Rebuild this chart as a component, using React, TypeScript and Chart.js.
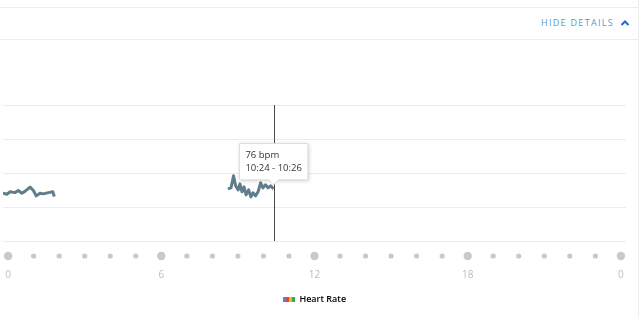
import React, { useEffect, useRef } from "react";
import { Chart, registerables } from "chart.js";
Chart.register(...registerables);

// ---- data ----
const seriesLabel = "Heart Rate";
const segment1Hours = [-0.2, -0.05, 0.08, 0.27, 0.4, 0.54, 0.67, 0.86, 0.99, 1.1, 1.25, 1.38, 1.58, 1.75, 1.81];
const segment1Bpm = [72.2, 71.3, 73.4, 72.7, 74.5, 72.2, 74.0, 77.5, 74.5, 69.8, 72.2, 71.6, 72.7, 73.4, 69.2];
const segment2Hours = [8.61, 8.73, 8.83, 8.91, 9.01, 9.08, 9.16, 9.24, 9.32, 9.42, 9.51, 9.59, 9.69, 9.79, 9.89, 9.98, 10.08, 10.18, 10.28, 10.4];
const segment2Bpm = [76.0, 76.9, 87.5, 78.7, 75.1, 80.4, 73.4, 77.8, 70.7, 75.1, 68.9, 72.5, 69.8, 73.4, 81.3, 76.9, 79.6, 76.9, 78.7, 76];
const gapHour = 5;
const hourTicks = [0, 1, 2, 3, 4, 5, 6, 7, 8, 9, 10, 11, 12, 13, 14, 15, 16, 17, 18, 19, 20, 21, 22, 23, 24];
const majorHours = [0, 6, 12, 18, 24];
const majorLabels = ["0", "6", "12", "18", "0"];
const bpmGrid = [30, 60, 90, 120, 150];
const tooltipHour = 10.4;
const bucketMinutes = 2;
const legendColors = ["#4285f4", "#ea4335", "#fbbc05", "#34a853"];

const fmtTime = (h: number) => {
  const total = Math.round(h * 60);
  const hh = Math.floor(total / 60);
  const mm = total % 60;
  return `${hh}:${mm < 10 ? "0" + mm : mm}`;
};

export default function App() {
  const ref = useRef<HTMLCanvasElement | null>(null);

  useEffect(() => {
    if (!ref.current) return;
    const pts: { x: number; y: number | null }[] = [];
    segment1Hours.forEach((h, i) => pts.push({ x: h, y: segment1Bpm[i] }));
    pts.push({ x: gapHour, y: null });
    segment2Hours.forEach((h, i) => pts.push({ x: h, y: segment2Bpm[i] }));
    const activeIndex = pts.findIndex((p) => p.x === tooltipHour);

    // legend swatch
    const sw = document.createElement("canvas");
    sw.width = 12;
    sw.height = 5;
    const sctx = sw.getContext("2d")!;
    legendColors.forEach((c, i) => {
      sctx.fillStyle = c;
      sctx.fillRect(i * 3, 0, 3, 5);
    });

    const dotsPlugin = {
      id: "hourDots",
      afterDraw(chart: any) {
        const xs = chart.scales.x;
        const ctx = chart.ctx;
        const y = chart.chartArea.bottom + 15;
        ctx.save();
        ctx.fillStyle = "#c9c9c9";
        hourTicks.forEach((h) => {
          const x = xs.getPixelForValue(h);
          ctx.beginPath();
          ctx.arc(x, y, majorHours.includes(h) ? 4.2 : 2.6, 0, Math.PI * 2);
          ctx.fill();
        });
        ctx.restore();
      },
    };

    const crossPlugin = {
      id: "crossLine",
      afterDatasetsDraw(chart: any) {
        const act = chart.tooltip?.getActiveElements?.() || [];
        if (!act.length) return;
        const x = Math.round(act[0].element.x) + 0.5;
        const ctx = chart.ctx;
        ctx.save();
        ctx.strokeStyle = "#4a4a4a";
        ctx.lineWidth = 1;
        ctx.beginPath();
        ctx.moveTo(x, chart.chartArea.top);
        ctx.lineTo(x, chart.chartArea.bottom);
        ctx.stroke();
        ctx.restore();
      },
      beforeTooltipDraw(chart: any) {
        const t = chart.tooltip;
        if (!t || !t.opacity) return;
        const ctx = chart.ctx;
        ctx.save();
        ctx.shadowColor = "rgba(0,0,0,0.18)";
        ctx.shadowBlur = 4;
        ctx.shadowOffsetX = 1;
        ctx.shadowOffsetY = 1;
        ctx.fillStyle = "#fff";
        ctx.fillRect(t.x, t.y, t.width, t.height);
        ctx.restore();
      },
    };

    const chart = new Chart(ref.current, {
      type: "line",
      data: {
        datasets: [
          {
            label: seriesLabel,
            data: pts as any,
            borderColor: "#607d8b",
            backgroundColor: "#607d8b",
            borderWidth: 3,
            pointRadius: 0,
            pointHoverRadius: 0,
            tension: 0,
            spanGaps: false,
            borderJoinStyle: "round",
          },
        ],
      },
      options: {
        animation: false,
        responsive: true,
        maintainAspectRatio: false,
        events: [],
        parsing: false as any,
        layout: { padding: { left: 3, right: 12, top: 65, bottom: 3 } },
        scales: {
          x: {
            type: "linear",
            min: -0.2,
            max: 24.2,
            grid: { display: false, drawTicks: false },
            border: { display: false },
            afterBuildTicks: (s: any) => {
              s.ticks = majorHours.map((v) => ({ value: v }));
            },
            afterFit: (s: any) => {
              s.height = 38;
              s.paddingLeft = 0;
              s.paddingRight = 0;
            },
            ticks: {
              autoSkip: false,
              maxRotation: 0,
              padding: 28,
              color: "#bdbdbd",
              font: { family: "'Open Sans'", size: 10 },
              callback: (v: any) => majorLabels[majorHours.indexOf(Number(v))] ?? "",
            },
          },
          y: {
            type: "linear",
            min: bpmGrid[0],
            max: bpmGrid[bpmGrid.length - 1],
            afterBuildTicks: (s: any) => {
              s.ticks = bpmGrid.map((v) => ({ value: v }));
            },
            afterFit: (s: any) => {
              s.width = 0;
            },
            grid: { color: "#ececec", lineWidth: 1, drawTicks: false },
            border: { display: false },
            ticks: { display: false },
          },
        },
        plugins: {
          legend: {
            position: "bottom",
            labels: {
              usePointStyle: true,
              pointStyleWidth: 12,
              padding: 16,
              color: "#333",
              font: { family: "'Open Sans'", size: 9, weight: "600" as any },
              generateLabels: () => [
                {
                  text: seriesLabel,
                  pointStyle: sw as any,
                  fillStyle: "#607d8b",
                  strokeStyle: "transparent",
                  lineWidth: 0,
                  hidden: false,
                  datasetIndex: 0,
                } as any,
              ],
            },
          },
          tooltip: {
            enabled: true,
            backgroundColor: "#ffffff",
            borderColor: "#dcdcdc",
            borderWidth: 1,
            cornerRadius: 0,
            caretSize: 5,
            caretPadding: 4,
            displayColors: false,
            xAlign: "center",
            yAlign: "bottom",
            padding: { left: 6, right: 6, top: 6, bottom: 6 },
            titleColor: "#333",
            bodyColor: "#333",
            titleFont: { family: "'Open Sans'", size: 9.5, weight: "normal" as any },
            bodyFont: { family: "'Open Sans'", size: 9.5 },
            titleMarginBottom: 1.6,
            callbacks: {
              title: (items: any[]) => `${Math.round(items[0].parsed.y)} bpm`,
              label: (item: any) => `${fmtTime(item.parsed.x)} - ${fmtTime(item.parsed.x + bucketMinutes / 60)}`,
            },
          },
        },
      },
      plugins: [dotsPlugin, crossPlugin],
    } as any);

    const el = chart.getDatasetMeta(0).data[activeIndex] as any;
    chart.tooltip!.setActiveElements([{ datasetIndex: 0, index: activeIndex }], { x: el.x, y: el.y });
    chart.update();

    return () => chart.destroy();
  }, []);

  return (
    <div style={{ position: "absolute", left: 0, top: 0, width: 640, height: 317, background: "#fff", fontFamily: "'Open Sans', sans-serif", overflow: "hidden" }}>
      <div style={{ position: "absolute", left: 0, top: 7, width: 638, height: 1, background: "#ececec" }} />
      <div style={{ position: "absolute", left: 0, top: 39, width: 638, height: 1, background: "#ececec" }} />
      <div style={{ position: "absolute", left: 638, top: 0, width: 1, height: 317, background: "#ececec" }} />
      <div style={{ position: "absolute", left: 541, top: 17, fontSize: 9, lineHeight: "12px", letterSpacing: "1.3px", color: "#5a96dc", whiteSpace: "nowrap" }}>HIDE DETAILS</div>
      <svg style={{ position: "absolute", left: 620, top: 19 }} width="10" height="8" viewBox="0 0 10 8">
        <polyline points="1.5,6 5,2.5 8.5,6" fill="none" stroke="#1f6ad0" strokeWidth="2" />
      </svg>
      <div style={{ position: "absolute", left: 0, top: 40, width: 638, height: 277 }}>
        <canvas ref={ref} />
      </div>
    </div>
  );
}
